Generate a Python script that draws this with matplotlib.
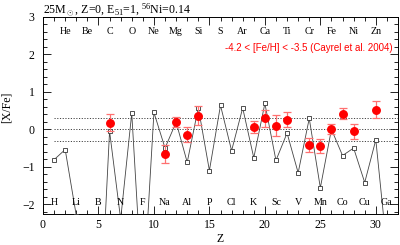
import matplotlib
matplotlib.use("Agg")
import matplotlib.pyplot as plt
from matplotlib.ticker import MultipleLocator

# Model yields [X/Fe] for Z = 1..31
model_z = list(range(1, 32))
model_xfe = [-0.81, -0.54, -2.3, -8.0, -6.0, -0.05, -2.4, 0.43, -4.6, 0.45,
             -0.50, 0.19, -0.88, 0.58, -1.10, 0.64, -0.57, 0.57, -0.76, 0.69,
             -0.83, -0.10, -1.16, 0.29, -1.56, 0.00, -0.70, -0.50, -1.42, -0.28,
             -3.2]

# Observations (Cayrel et al. 2004)
obs_z = [6, 11, 12, 13, 14, 19, 20, 21, 22, 24, 25, 26, 27, 28, 30]
obs_xfe = [0.18, -0.66, 0.19, -0.14, 0.36, 0.06, 0.29, 0.10, 0.25, -0.42,
           -0.45, 0.00, 0.42, -0.05, 0.52]
obs_err = [0.22, 0.23, 0.13, 0.20, 0.25, 0.15, 0.23, 0.28, 0.20, 0.18,
           0.18, 0.13, 0.14, 0.20, 0.23]

top_elems = ["He", "Be", "C", "O", "Ne", "Mg", "Si", "S", "Ar", "Ca", "Ti",
             "Cr", "Fe", "Ni", "Zn"]
top_z = [2, 4, 6, 8, 10, 12, 14, 16, 18, 20, 22, 24, 26, 28, 30]
bot_elems = ["H", "Li", "B", "N", "F", "Na", "Al", "P", "Cl", "K", "Sc", "V",
             "Mn", "Co", "Cu", "Ga"]
bot_z = [1, 3, 5, 7, 9, 11, 13, 15, 17, 19, 21, 23, 25, 27, 29, 31]

ref_lines = [0.3, 0.0, -0.3]

serif = "Liberation Serif"
plt.rcParams["font.family"] = serif
plt.rcParams["mathtext.fontset"] = "custom"
plt.rcParams["mathtext.rm"] = serif
plt.rcParams["mathtext.it"] = serif

fig = plt.figure(figsize=(4.0, 2.45), dpi=100)
ax = fig.add_axes([0.1075, 0.128, 0.8875, 0.803])

ax.set_xlim(0, 32)
ax.set_ylim(-2.25, 3.0)

for yv in ref_lines:
    ax.hlines(yv, 1, 32, colors="#444444", linestyles=(0, (1.2, 1.6)), lw=0.7)

ax.plot(model_z, model_xfe, color="#444444", lw=0.6, marker="s", ms=2.2,
        mfc="white", mec="#333333", mew=0.6, zorder=3)

ax.errorbar(obs_z, obs_xfe, yerr=obs_err, fmt="o", color="red", ms=5.4,
            ecolor="#ff7070", elinewidth=0.9, capsize=3, capthick=0.9, zorder=4)

for el, z in zip(top_elems, top_z):
    ax.text(z, 2.6, el, ha="center", va="center", fontsize=7.2)
for el, z in zip(bot_elems, bot_z):
    ax.text(z, -1.95, el, ha="center", va="center", fontsize=7.2)

ax.text(31.5, 2.18, "-4.2 < [Fe/H] < -3.5 (Cayrel et al. 2004)", color="red",
        ha="right", va="center", fontsize=7.0, family="Liberation Sans")

fig.text(0.1075, 1 - 13.5 / 245, r"25M$_\odot$, Z=0, E$_{51}$=1, $^{56}$Ni=0.14",
         ha="left", va="baseline", fontsize=8.6)

ax.xaxis.set_major_locator(MultipleLocator(5))
ax.xaxis.set_minor_locator(MultipleLocator(1))
ax.yaxis.set_major_locator(MultipleLocator(1))
ax.yaxis.set_minor_locator(MultipleLocator(0.2))
ax.tick_params(which="both", direction="in", top=True, right=True,
               labelsize=8.5, width=0.6)
ax.tick_params(which="major", length=6)
ax.tick_params(which="minor", length=3)
ax.tick_params(axis="x", which="major", pad=4)
ax.tick_params(axis="y", which="major", pad=6)
for s in ax.spines.values():
    s.set_linewidth(0.7)

ax.set_xlabel("Z", fontsize=8.5, va="center")
ax.xaxis.set_label_coords(0.5, -0.13)
ax.set_ylabel("[X/Fe]", fontsize=8.5)
ax.yaxis.set_label_coords(-0.085, 0.54)

fig.savefig("out.png", dpi=100)
